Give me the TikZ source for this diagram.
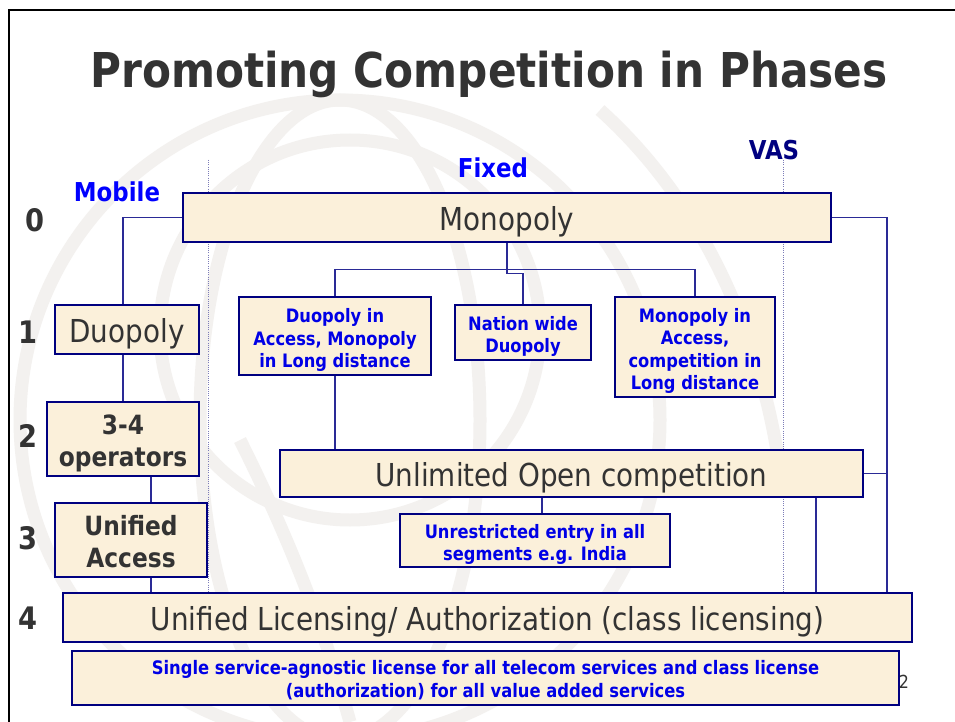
\documentclass[tikz,border=0pt]{standalone}
\usepackage{fontspec}
\setmainfont{DejaVu Sans}[FakeStretch=0.88]
\usetikzlibrary{calc}
\definecolor{boxfill}{HTML}{FBF0DA}
\definecolor{boxline}{HTML}{000080}
\definecolor{connc}{HTML}{2A2A96}
\definecolor{txtblue}{HTML}{0000E6}
\definecolor{txtdark}{HTML}{333333}
\definecolor{wmark}{HTML}{F3F1EF}
\definecolor{dotc}{HTML}{7C7CB8}
\newcommand\liftby[1]{\rule{0pt}{#1}}
\tikzset{
  box/.style={draw=boxline, line width=1.4pt, fill=boxfill, inner sep=0pt, align=center},
  bigbox/.style={box, font=\fontsize{31.6}{36}\selectfont, text=txtdark, execute at begin node={\rule{0pt}{32pt}}},
  medbox/.style={box, font=\bfseries\fontsize{26.5}{32}\selectfont, text=txtdark},
  smallbox/.style={box, font=\bfseries\fontsize{18.5}{22.3}\selectfont, text=txtblue},
  tinybox/.style={box, font=\bfseries\fontsize{18.6}{23}\selectfont, text=txtblue},
  conn/.style={draw=connc, line width=1.1pt},
  phase/.style={font=\bfseries\fontsize{31}{31}\selectfont, text=txtdark},
  colhead/.style={font=\bfseries\fontsize{26}{26}\selectfont},
  divider/.style={draw=dotc, line width=0.7pt, dash pattern=on 1pt off 1.2pt},
  wm/.style={draw=wmark, line width=13pt}
}
\begin{document}
\begin{tikzpicture}[x=1pt, y=-1pt]
\useasboundingbox (0,0) rectangle (955,722);
\fill[white] (0,0) rectangle (955,722);
% watermark globe
\begin{scope}
\clip (0,0) rectangle (955,722);
\draw[wm] (340,420) circle [radius=320];
\draw[wm] (350,330) circle [radius=190];
\draw[wm] (340,420) ellipse [x radius=140, y radius=320];
\draw[wm] (240,440) .. controls (300,560) and (330,650) .. (350,722);
\draw[wm] (600,110) .. controls (700,200) and (760,330) .. (780,470);
\end{scope}
% frame
\draw[black, line width=2pt] (9,722) -- (9,10) -- (955,10);
% title
\node[anchor=base, font=\bfseries\fontsize{48}{48}\selectfont, text=txtdark] (title) at (489,88) {Promoting Competition in Phases};
% column headers
\node[colhead, text=blue] (mobile) at (117,192) {Mobile};
\node[colhead, text=blue] (fixed) at (493,168) {Fixed};
\node[colhead, text=boxline] (vas) at (774,150) {VAS};
% phase numbers
\node[phase] (p0) at (35,220) {0};
\node[phase] (p1) at (28,332) {1};
\node[phase] (p2) at (28,436) {2};
\node[phase] (p3) at (28,538) {3};
\node[phase] (p4) at (28,618) {4};
% dividers
\draw[divider] (208,160) -- (208,593);
\draw[divider] (783,160) -- (783,593);
% boxes
\node[bigbox, minimum width=648pt, minimum height=49pt] (mono) at (507,217.5) {Monopoly};
\node[bigbox, minimum width=144pt, minimum height=49pt] (duo) at (127,329.5) {Duopoly};
\node[smallbox, minimum width=192pt, minimum height=78pt] (dacc) at (335,336) {\liftby{22pt}Duopoly in\\Access, Monopoly\\in Long distance};
\node[smallbox, minimum width=136pt, minimum height=55pt] (nat) at (523,332.5) {\liftby{22pt}Nation wide\\Duopoly};
\node[smallbox, minimum width=160pt, minimum height=100pt] (macc) at (695,347) {\liftby{22pt}Monopoly in\\Access,\\competition in\\Long distance};
\node[medbox, minimum width=152pt, minimum height=74pt] (ops) at (123,439) {\liftby{28pt}3-4\\operators};
\node[bigbox, minimum width=583pt, minimum height=47pt] (unl) at (571.5,473.5) {Unlimited Open competition};
\node[medbox, minimum width=152pt, minimum height=74pt] (ua) at (131,540) {\liftby{24pt}Unified\\Access};
\node[smallbox, minimum width=270pt, minimum height=53pt] (unr) at (535,540.5) {\liftby{22pt}Unrestricted entry in all\\segments e.g. India};
\node[bigbox, minimum width=849pt, minimum height=49pt] (ul) at (487.5,617.5) {Unified Licensing/ Authorization (class licensing)};
\node[tinybox, minimum width=827pt, minimum height=54pt] (ss) at (485.5,678) {\liftby{18pt}Single service-agnostic license for all telecom services and class license\\(authorization) for all value added services};
\node[font=\fontsize{18}{18}\selectfont, text=txtdark] (pg) at (904,682) {2};
% connectors
\draw[conn] (mono.west) -| ([xshift=-4pt]duo.north);
\draw[conn] ([xshift=-4pt]duo.south) -- (ops.north);
\draw[conn] ([xshift=28pt]ops.south) -- ([xshift=20pt]ua.north);
\draw[conn] ([xshift=20pt]ua.south) -- ([xshift=20pt]ua.south |- ul.north);
\draw[conn] (mono.south) |- ([yshift=31pt]nat.north) -- (nat.north);
\draw[conn] ([yshift=27pt]dacc.north) -- ([yshift=27pt]dacc.north -| macc.north) -- (macc.north);
\draw[conn] ([yshift=27pt]dacc.north) -- (dacc.north);
\draw[conn] (dacc.south) -- (dacc.south |- unl.north);
\draw[conn] ([xshift=7pt]unr.north) -- ([xshift=7pt]unr.north |- unl.south);
\draw[conn] (mono.east) -| ([xshift=399.5pt]ul.north);
\draw[conn] (unl.east) -- ++(24,0);
\draw[conn] ([xshift=244.5pt]unl.south) -- ([xshift=244.5pt]unl.south |- ul.north);
\end{tikzpicture}
\end{document}
